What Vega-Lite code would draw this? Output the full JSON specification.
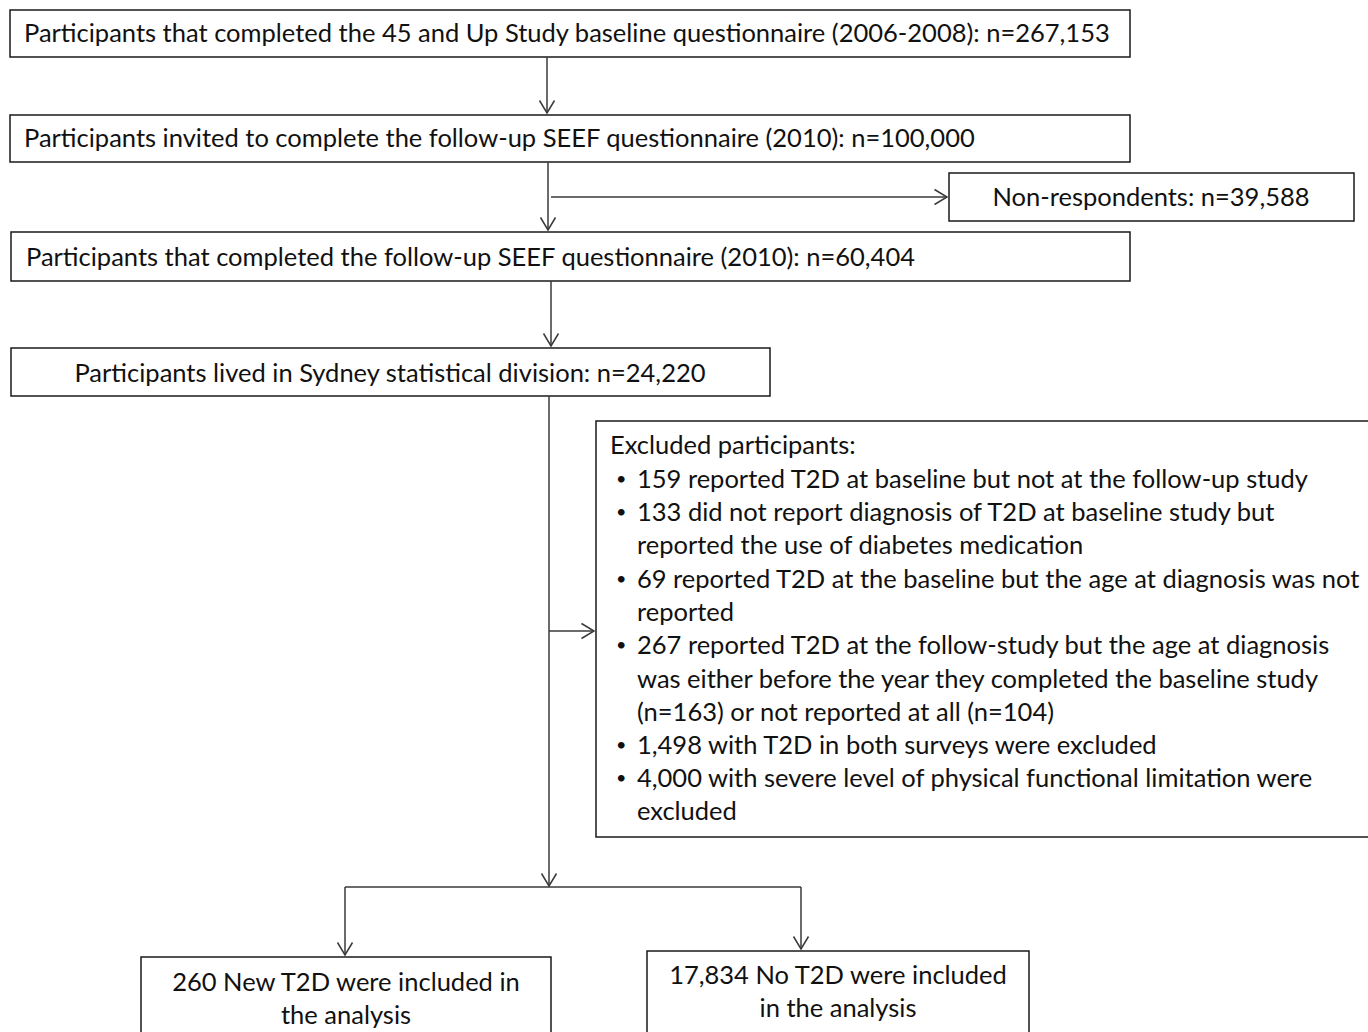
{
  "$schema": "https://vega.github.io/schema/vega-lite/v6.json",
  "width": 1368,
  "height": 1032,
  "padding": 0,
  "autosize": "none",
  "background": "white",
  "config": {"view": {"stroke": null}},
  "datasets": {
    "boxes": [
      {"id": "baseline", "x1": 10, "x2": 1130, "y1": 10, "y2": 57},
      {"id": "invited", "x1": 10, "x2": 1130, "y1": 115, "y2": 162},
      {"id": "nonresp", "x1": 949, "x2": 1354, "y1": 173, "y2": 221},
      {"id": "completed", "x1": 11, "x2": 1130, "y1": 232, "y2": 281},
      {"id": "sydney", "x1": 11, "x2": 770, "y1": 348, "y2": 396},
      {"id": "excluded", "x1": 596, "x2": 1380, "y1": 421, "y2": 837},
      {"id": "newt2d", "x1": 141, "x2": 551, "y1": 957, "y2": 1045},
      {"id": "not2d", "x1": 647, "x2": 1029, "y1": 951, "y2": 1045}
    ],
    "labels": [
      {"text": "Participants that completed the 45 and Up Study baseline questionnaire (2006-2008): n=267,153", "x": 24, "y": 34, "anchor": "left"},
      {"text": "Participants invited to complete the follow-up SEEF questionnaire (2010): n=100,000", "x": 24, "y": 139, "anchor": "left"},
      {"text": "Non-respondents: n=39,588", "x": 1151, "y": 198, "anchor": "center"},
      {"text": "Participants that completed the follow-up SEEF questionnaire (2010): n=60,404", "x": 26, "y": 258, "anchor": "left"},
      {"text": "Participants lived in Sydney statistical division: n=24,220", "x": 390, "y": 374, "anchor": "center"},
      {"text": "Excluded participants:", "x": 610, "y": 446, "anchor": "left"},
      {"text": "•", "x": 616, "y": 480, "anchor": "bullet"},
      {"text": "159 reported T2D at baseline but not at the follow-up study", "x": 637, "y": 480, "anchor": "left"},
      {"text": "•", "x": 616, "y": 513, "anchor": "bullet"},
      {"text": "133 did not report diagnosis of T2D at baseline study but", "x": 637, "y": 513, "anchor": "left"},
      {"text": "reported the use of diabetes medication", "x": 637, "y": 546, "anchor": "left"},
      {"text": "•", "x": 616, "y": 580, "anchor": "bullet"},
      {"text": "69 reported T2D at the baseline but the age at diagnosis was not", "x": 637, "y": 580, "anchor": "left"},
      {"text": "reported", "x": 637, "y": 613, "anchor": "left"},
      {"text": "•", "x": 616, "y": 646, "anchor": "bullet"},
      {"text": "267 reported T2D at the follow-study but the age at diagnosis", "x": 637, "y": 646, "anchor": "left"},
      {"text": "was either before the year they completed the baseline study", "x": 637, "y": 680, "anchor": "left"},
      {"text": "(n=163) or not reported at all (n=104)", "x": 637, "y": 713, "anchor": "left"},
      {"text": "•", "x": 616, "y": 746, "anchor": "bullet"},
      {"text": "1,498 with T2D in both surveys were excluded", "x": 637, "y": 746, "anchor": "left"},
      {"text": "•", "x": 616, "y": 779, "anchor": "bullet"},
      {"text": "4,000 with severe level of physical functional limitation were", "x": 637, "y": 779, "anchor": "left"},
      {"text": "excluded", "x": 637, "y": 812, "anchor": "left"},
      {"text": "260 New T2D were included in", "x": 346, "y": 983, "anchor": "center"},
      {"text": "the analysis", "x": 346, "y": 1016, "anchor": "center"},
      {"text": "17,834 No T2D were included", "x": 838, "y": 976, "anchor": "center"},
      {"text": "in the analysis", "x": 838, "y": 1009, "anchor": "center"}
    ],
    "lines": [
      {"x": 547, "y": 57, "x2": 547, "y2": 113},
      {"x": 548, "y": 162, "x2": 548, "y2": 230},
      {"x": 551, "y": 197, "x2": 947, "y2": 197},
      {"x": 551, "y": 281, "x2": 551, "y2": 346},
      {"x": 549, "y": 396, "x2": 549, "y2": 886},
      {"x": 549, "y": 631, "x2": 594, "y2": 631},
      {"x": 345, "y": 887, "x2": 801, "y2": 887},
      {"x": 345, "y": 887, "x2": 345, "y2": 955},
      {"x": 801, "y": 887, "x2": 801, "y2": 949}
    ],
    "arrows": [
      {"x": 547, "y": 113, "dir": "down"},
      {"x": 548, "y": 230, "dir": "down"},
      {"x": 947, "y": 197, "dir": "right"},
      {"x": 551, "y": 346, "dir": "down"},
      {"x": 549, "y": 886, "dir": "down"},
      {"x": 594, "y": 631, "dir": "right"},
      {"x": 345, "y": 955, "dir": "down"},
      {"x": 801, "y": 949, "dir": "down"}
    ]
  },
  "layer": [
    {
      "data": {"name": "boxes"},
      "mark": {"type": "rect", "fill": "white", "stroke": "#1a1a1a", "strokeWidth": 1.5},
      "encoding": {
        "x": {"field": "x1", "type": "quantitative", "scale": {"domain": [0, 1368], "range": [0, 1368]}, "axis": null},
        "x2": {"field": "x2"},
        "y": {"field": "y1", "type": "quantitative", "scale": {"domain": [0, 1032], "range": [0, 1032]}, "axis": null},
        "y2": {"field": "y2"}
      }
    },
    {
      "data": {"name": "lines"},
      "mark": {"type": "rule", "stroke": "#3a3a3a", "strokeWidth": 1.5},
      "encoding": {
        "x": {"field": "x", "type": "quantitative", "scale": {"domain": [0, 1368], "range": [0, 1368]}, "axis": null},
        "x2": {"field": "x2"},
        "y": {"field": "y", "type": "quantitative", "scale": {"domain": [0, 1032], "range": [0, 1032]}, "axis": null},
        "y2": {"field": "y2"}
      }
    },
    {
      "data": {"name": "arrows"},
      "transform": [{"filter": "datum.dir === 'down'"}],
      "mark": {"type": "point", "shape": "M-0.6,-1L0,0L0.6,-1", "filled": false, "stroke": "#3a3a3a", "strokeWidth": 1.5, "size": 625, "opacity": 1},
      "encoding": {
        "x": {"field": "x", "type": "quantitative", "scale": {"domain": [0, 1368], "range": [0, 1368]}, "axis": null},
        "y": {"field": "y", "type": "quantitative", "scale": {"domain": [0, 1032], "range": [0, 1032]}, "axis": null}
      }
    },
    {
      "data": {"name": "arrows"},
      "transform": [{"filter": "datum.dir === 'right'"}],
      "mark": {"type": "point", "shape": "M-1,-0.6L0,0L-1,0.6", "filled": false, "stroke": "#3a3a3a", "strokeWidth": 1.5, "size": 625, "opacity": 1},
      "encoding": {
        "x": {"field": "x", "type": "quantitative", "scale": {"domain": [0, 1368], "range": [0, 1368]}, "axis": null},
        "y": {"field": "y", "type": "quantitative", "scale": {"domain": [0, 1032], "range": [0, 1032]}, "axis": null}
      }
    },
    {
      "data": {"name": "labels"},
      "transform": [{"filter": "datum.anchor === 'left'"}],
      "mark": {"type": "text", "align": "left", "baseline": "middle", "font": "Lato", "fontSize": 25.5, "fill": "#111111"},
      "encoding": {
        "x": {"field": "x", "type": "quantitative", "scale": {"domain": [0, 1368], "range": [0, 1368]}, "axis": null},
        "y": {"field": "y", "type": "quantitative", "scale": {"domain": [0, 1032], "range": [0, 1032]}, "axis": null},
        "text": {"field": "text"}
      }
    },
    {
      "data": {"name": "labels"},
      "transform": [{"filter": "datum.anchor === 'bullet'"}],
      "mark": {"type": "text", "align": "left", "baseline": "middle", "font": "Lato", "fontSize": 18, "fill": "#111111"},
      "encoding": {
        "x": {"field": "x", "type": "quantitative", "scale": {"domain": [0, 1368], "range": [0, 1368]}, "axis": null},
        "y": {"field": "y", "type": "quantitative", "scale": {"domain": [0, 1032], "range": [0, 1032]}, "axis": null},
        "text": {"field": "text"}
      }
    },
    {
      "data": {"name": "labels"},
      "transform": [{"filter": "datum.anchor === 'center'"}],
      "mark": {"type": "text", "align": "center", "baseline": "middle", "font": "Lato", "fontSize": 25.5, "fill": "#111111"},
      "encoding": {
        "x": {"field": "x", "type": "quantitative", "scale": {"domain": [0, 1368], "range": [0, 1368]}, "axis": null},
        "y": {"field": "y", "type": "quantitative", "scale": {"domain": [0, 1032], "range": [0, 1032]}, "axis": null},
        "text": {"field": "text"}
      }
    }
  ]
}
